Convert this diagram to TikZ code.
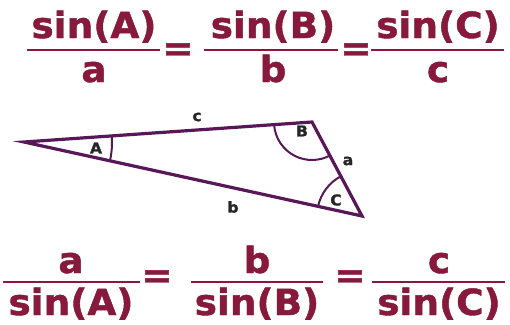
\documentclass[tikz,border=0pt]{standalone}
\usepackage{fontspec}
\setmainfont{DejaVu Sans}
\newfontfamily\heavyfont{DejaVu Sans Bold}[FakeBold=1.2,FakeStretch=1.04]
\usetikzlibrary{angles}
\definecolor{wine}{RGB}{135,25,60}
\definecolor{plum}{RGB}{88,24,88}
\tikzset{
	frac/.style={font=\fontsize{36}{40}\heavyfont, text=wine, inner sep=0pt, anchor=base},
	eqs/.style={font=\fontsize{36}{40}\heavyfont, text=wine, inner sep=0pt},
	fbar/.style={draw=wine, line width=2.8pt},
	side/.style={font=\fontsize{15}{17}\heavyfont, text=black!85, inner sep=1pt},
	ang/.style={draw=plum, line width=2pt}
}
\begin{document}
\begin{tikzpicture}[x=1pt,y=-1pt,line join=miter]
	\useasboundingbox[fill=white] (0,0) rectangle (510,324);
	
	% sin(A)/a = sin(B)/b = sin(C)/c
	\node[frac] (sA1) at (94,38) {sin(A)};
	\node[frac] (a1) at (94,82) {a};
	\draw[fbar] (27,50) -- (160,50);
	\node[eqs] (eq1) at (178,52) {=};
	\node[frac] (sB1) at (273,38) {sin(B)};
	\node[frac] (b1) at (273,82) {b};
	\draw[fbar] (204,50) -- (338,50);
	\node[eqs] (eq2) at (356,52) {=};
	\node[frac] (sC1) at (438,38) {sin(C)};
	\node[frac] (c1) at (438,82) {c};
	\draw[fbar] (371,50) -- (504,50);
	
	% triangle
	\coordinate (A) at (24,142);
	\coordinate (B) at (312,122);
	\coordinate (C) at (362,216);
	\draw[plum, line width=3.2pt] (A) -- (B) -- (C) -- cycle;
	\pic[ang, angle radius=88pt] {angle=C--A--B};
	\pic[ang, angle radius=38pt] {angle=A--B--C};
	\pic[ang, angle radius=45pt] {angle=B--C--A};
	\node[side] (lc) at (197,117) {c};
	\node[side] (la) at (348,161) {a};
	\node[side] (lb) at (233,207) {b};
	\node[side] (lA) at (96,148) {A};
	\node[side] (lB) at (302,131) {B};
	\node[side] (lC) at (336,200) {C};
	
	% a/sin(A) = b/sin(B) = c/sin(C)
	\node[frac] (a2) at (71,273) {a};
	\node[frac] (sA2) at (71,315) {sin(A)};
	\draw[fbar] (3,282) -- (140,282);
	\node[eqs] (eq3) at (157,279) {=};
	\node[frac] (b2) at (257,273) {b};
	\node[frac] (sB2) at (257,315) {sin(B)};
	\draw[fbar] (191,282) -- (323,282);
	\node[eqs] (eq4) at (350,279) {=};
	\node[frac] (c2) at (439,273) {c};
	\node[frac] (sC2) at (439,315) {sin(C)};
	\draw[fbar] (372,282) -- (505,282);
	
\end{tikzpicture}
\end{document}
